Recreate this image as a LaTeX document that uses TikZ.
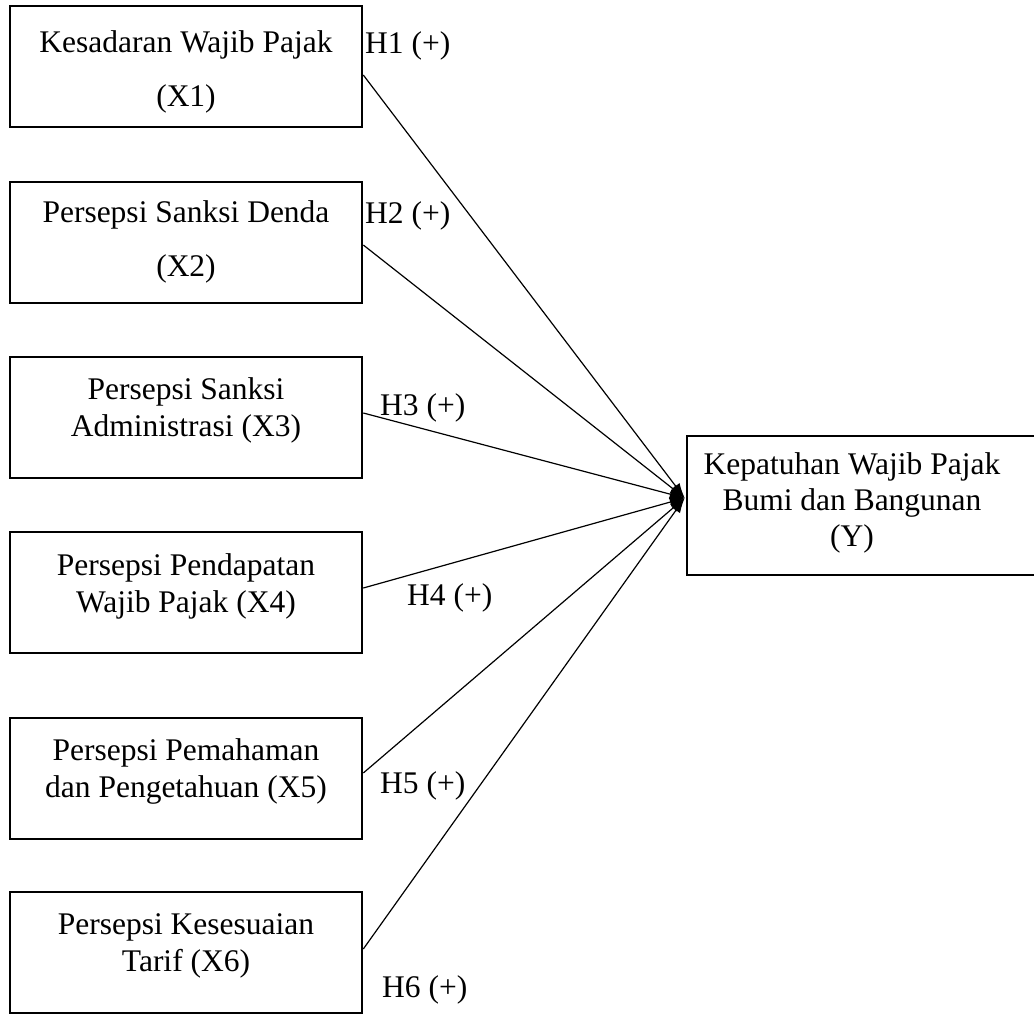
\documentclass[tikz,border=0pt]{standalone}
\usepackage{fontspec}
\setmainfont{Liberation Serif}
\usetikzlibrary{arrows.meta}
\begin{document}
\begin{tikzpicture}[x=1pt,y=-1pt,
  box/.style={draw,line width=2.6pt,inner sep=0pt,minimum width=352pt,minimum height=121pt},
  txt/.style={inner sep=0pt,align=center,font=\fontsize{31.5}{37}\selectfont},
  hyp/.style={inner sep=0pt,anchor=base west,font=\fontsize{31.5}{37}\selectfont},
  conn/.style={line width=1.2pt,-{Latex[length=15pt,width=10pt]}}]
\useasboundingbox (0,0) rectangle (1034,1015);
\fill[white] (0,0) rectangle (1034,1015);
% boxes
\node[box] (b1) at (186,66.5) {};
\node[box] (b2) at (186,242.5) {};
\node[box] (b3) at (186,417.5) {};
\node[box] (b4) at (186,592.5) {};
\node[box] (b5) at (186,778.5) {};
\node[box] (b6) at (186,952.5) {};
\begin{scope}
\clip (0,0) rectangle (1034,1015);
\node[box,minimum width=353pt,minimum height=139pt] (Y) at (863.5,505.5) {};
\end{scope}
% texts
\node[txt] (t1) at (186,72) {Kesadaran Wajib Pajak\\[17pt](X1)};
\node[txt] (t2) at (186,242) {Persepsi Sanksi Denda\\[17pt](X2)};
\node[txt] (t3) at (186,410.5) {Persepsi Sanksi\\Administrasi (X3)};
\node[txt] (t4) at (186,586) {Persepsi Pendapatan\\Wajib Pajak (X4)};
\node[txt] (t5) at (186,771) {Persepsi Pemahaman\\dan Pengetahuan (X5)};
\node[txt] (t6) at (186,945.5) {Persepsi Kesesuaian\\Tarif (X6)};
\node[txt] (ty) at (852,503) {Kepatuhan Wajib Pajak\\[-1pt]Bumi dan Bangunan\\[-1pt](Y)};
% hypothesis labels
\node[hyp] (h1) at (365,53) {H1 (+)};
\node[hyp] (h2) at (365,223) {H2 (+)};
\node[hyp] (h3) at (380,415) {H3 (+)};
\node[hyp] (h4) at (407,605) {H4 (+)};
\node[hyp] (h5) at (380,793) {H5 (+)};
\node[hyp] (h6) at (382,997) {H6 (+)};
% connectors
\coordinate (tip) at ([xshift=-1pt,yshift=7.5pt]Y.west);
\draw[conn] ([yshift=-8.5pt]b1.east) -- (tip);
\draw[conn] ([yshift=-2.5pt]b2.east) -- (tip);
\draw[conn] ([yshift=4.5pt]b3.east) -- (tip);
\draw[conn] ([yshift=4.5pt]b4.east) -- (tip);
\draw[conn] ([yshift=5.5pt]b5.east) -- (tip);
\draw[conn] ([yshift=3.5pt]b6.east) -- (tip);
\end{tikzpicture}
\end{document}
